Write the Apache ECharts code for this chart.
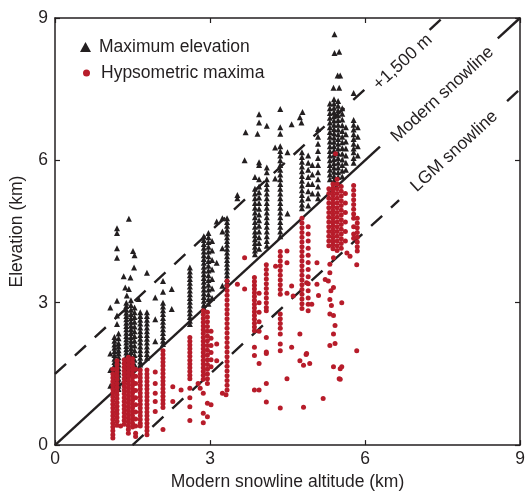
<!DOCTYPE html>
<html>
<head>
<meta charset="utf-8">
<script src="https://cdn.jsdelivr.net/npm/echarts@6/dist/echarts.min.js"></script>
<style>
html,body{margin:0;padding:0;background:#fff;}
#chart{width:528px;height:496px;}
</style>
</head>
<body>
<div id="chart"></div>
<script>
// ---- Data (km): each entry is [snowline altitude x, [elevations y ...]] ----
const maxElevLow = [
  [1.07, [2.90, 1.93, 1.58, 1.25]],
  [1.15, [2.28, 2.20, 2.12, 2.05, 1.98, 1.90, 1.82, 1.75, 1.68, 1.60, 1.52, 1.45, 1.38, 1.30, 1.22]],
  [1.20, [4.57, 4.47, 4.15, 3.95, 3.04, 2.73, 2.55]],
  [1.23, [2.35, 2.25, 2.15, 2.08, 2.00, 1.93, 1.85, 1.78, 1.70, 1.62, 1.55, 1.48, 1.40, 1.33, 1.25, 1.18]],
  [1.33, [3.56]],
  [1.36, [3.32]],
  [1.38, [3.00, 2.93, 2.86, 2.79, 2.72, 2.65, 2.58, 2.51, 2.44, 2.37, 2.30, 2.23, 2.16, 2.09, 2.02, 1.95, 1.88, 1.81, 1.74, 1.67, 1.60, 1.53, 1.46, 1.39]],
  [1.39, [3.15]],
  [1.43, [4.77, 3.29]],
  [1.46, [3.53]],
  [1.47, [3.05, 2.95, 2.85, 2.76, 2.68, 2.60, 2.52, 2.44, 2.36, 2.28, 2.20, 2.12, 2.04, 1.96, 1.88, 1.80, 1.72, 1.64, 1.56, 1.50]],
  [1.51, [4.09]],
  [1.53, [3.74]],
  [1.54, [4.00, 2.90, 2.80, 2.70, 2.60, 2.50, 2.40, 2.30, 2.20, 2.10, 2.00, 1.90, 1.80, 1.70]],
  [1.62, [3.08]],
  [1.65, [2.80, 2.72, 2.64, 2.56, 2.48, 2.40, 2.32, 2.24, 2.16, 2.08, 2.00, 1.92, 1.84, 1.76, 1.70]],
  [1.78, [3.63, 2.80, 2.72, 2.64, 2.56, 2.48, 2.40, 2.32, 2.24, 2.16, 2.08, 2.00, 1.92, 1.84]],
  [1.94, [3.11, 2.65, 2.19]],
  [2.09, [3.46, 3.23, 3.00, 2.92, 2.84, 2.76, 2.68, 2.60, 2.52, 2.44, 2.36, 2.28, 2.20, 2.13]]
];
const maxElevMid = [
  [2.26, [3.29, 2.87]],
  [2.61, [3.74, 3.66, 3.58, 3.50, 3.42, 3.34, 3.26, 3.18, 3.10, 3.02, 2.94, 2.86, 2.78, 2.70, 2.62, 2.55]],
  [2.88, [4.40, 4.32, 4.24, 4.16, 4.08, 4.00, 3.92, 3.84, 3.76, 3.68, 3.60, 3.52, 3.44, 3.36, 3.28, 3.20, 3.12, 3.04, 2.96, 2.90]],
  [2.97, [4.47, 4.38, 4.28, 4.18, 4.08, 3.98, 3.88, 3.78, 3.68, 3.58, 3.48, 3.38, 3.28, 3.18, 3.08, 2.98]],
  [3.04, [4.30, 4.10, 3.90, 3.70, 3.50, 3.30, 3.10]],
  [3.13, [4.71, 3.84]],
  [3.24, [4.78, 4.50, 4.15, 3.36]],
  [3.33, [4.78, 4.70, 4.62, 4.54, 4.46, 4.38, 4.30, 4.22, 4.14, 4.06, 3.98, 3.90, 3.82, 3.74, 3.66, 3.58, 3.50, 3.42]],
  [3.53, [5.27, 5.20]],
  [3.67, [6.00]],
  [3.69, [6.59]],
  [3.87, [5.65, 5.40, 5.30, 5.20, 5.10, 5.00, 4.90, 4.80, 4.70, 4.60, 4.50, 4.42, 4.34, 4.26, 4.18, 4.10, 4.02]],
  [3.92, [6.56]],
  [3.95, [6.97, 6.80, 5.96, 5.90, 5.60, 5.45, 5.33, 5.22, 5.10, 4.98, 4.86, 4.74, 4.62, 4.50, 4.38, 4.26, 4.14]],
  [4.10, [6.73, 5.85, 5.75, 5.60, 5.50, 5.40, 5.30, 5.20, 5.10, 5.00, 4.90, 4.80, 4.70, 4.60, 4.50, 4.40, 4.30, 4.20]],
  [4.26, [6.27, 5.62]],
  [4.36, [7.08, 6.70, 6.56, 6.30, 6.20, 6.10, 6.00, 5.90, 5.80, 5.70, 5.60, 5.50, 5.40, 5.30, 5.20, 5.10, 5.00, 4.90, 4.80, 4.70, 4.60, 4.50, 4.40]],
  [4.50, [6.17, 4.88]],
  [4.58, [6.76]]
];
const maxElevHigh = [
  [4.74, [6.91]],
  [4.77, [6.80]],
  [4.79, [7.02]],
  [4.78, [6.17, 6.07, 5.97, 5.87, 5.77, 5.67, 5.57, 5.47, 5.37, 5.27, 5.17, 5.07, 4.99]],
  [4.90, [6.10, 5.95, 5.80, 5.65, 5.50, 5.35, 5.20, 5.05]],
  [4.98, [5.90, 5.70, 5.50, 5.30]],
  [5.09, [6.66, 6.50, 6.35, 6.20, 6.05, 5.90, 5.75, 5.60, 5.45, 5.30, 5.20]],
  [5.32, [7.20, 7.10, 7.00, 6.90, 6.80, 6.70, 6.60, 6.50, 6.40, 6.30, 6.20, 6.10, 6.00, 5.90, 5.80, 5.70, 5.60]],
  [5.39, [7.53]],
  [5.40, [7.29, 7.20, 7.11, 7.02, 6.93, 6.84, 6.75, 6.66, 6.57, 6.48, 6.39, 6.30, 6.21, 6.12, 6.03, 5.94, 5.85, 5.76, 5.67, 5.58]],
  [5.41, [8.66, 8.26]],
  [5.47, [7.79]],
  [5.48, [7.25, 7.15, 7.05, 6.95, 6.85, 6.75, 6.65, 6.55, 6.45, 6.35, 6.25, 6.15, 6.05, 5.95, 5.85, 5.75, 5.65]],
  [5.50, [8.29, 7.53]],
  [5.52, [7.79]],
  [5.56, [7.10, 6.98, 6.86, 6.74, 6.62, 6.50, 6.38, 6.26, 6.14, 6.02, 5.90, 5.78, 5.66]],
  [5.63, [6.70, 6.55, 6.40, 6.25, 6.10, 5.95, 5.80]],
  [5.78, [7.42, 6.85, 6.75, 6.65, 6.55, 6.45, 6.35, 6.25, 6.17, 6.05, 5.95]],
  [5.86, [6.70, 6.50, 6.30, 6.10]]
];
const hypsoLow = [
  [1.12, [1.60, 1.50, 1.42, 1.34, 1.26, 1.18, 1.10, 1.02, 0.94, 0.86, 0.78, 0.70, 0.62, 0.54, 0.46, 0.38, 0.30, 0.22, 0.15]],
  [1.20, [1.78, 1.70, 1.62, 1.54, 1.46, 1.38, 1.30, 1.22, 1.14, 1.06, 0.98, 0.90, 0.82, 0.74, 0.66, 0.58, 0.50, 0.42]],
  [1.27, [0.40]],
  [1.34, [1.80, 1.72, 1.64, 1.56, 1.48, 1.40, 1.32, 1.24, 1.16, 1.08, 1.00, 0.92, 0.84, 0.76, 0.68, 0.60, 0.52, 0.44]],
  [1.42, [1.85, 1.77, 1.69, 1.61, 1.53, 1.45, 1.37, 1.29, 1.21, 1.13, 1.05, 0.97, 0.89, 0.81, 0.73, 0.65, 0.57, 0.49, 0.41, 0.33, 0.25]],
  [1.50, [1.82, 1.74, 1.66, 1.58, 1.50, 1.42, 1.34, 1.26, 1.18, 1.10, 1.02, 0.94, 0.86, 0.78, 0.70, 0.62, 0.54, 0.46, 0.38]],
  [1.56, [1.60, 1.45, 1.30, 1.15, 1.00, 0.85, 0.70, 0.55, 0.40, 0.25, 0.18]],
  [1.65, [1.58, 1.50, 1.42, 1.34, 1.26, 1.18, 1.10, 1.02, 0.94, 0.86, 0.78, 0.70, 0.62, 0.54, 0.46, 0.40]],
  [1.78, [1.58, 1.50, 1.42, 1.34, 1.26, 1.18, 1.10, 1.02, 0.94, 0.86, 0.78, 0.70, 0.62, 0.54, 0.46, 0.38, 0.30, 0.22]],
  [1.94, [1.54, 1.30, 1.09, 0.92, 0.71]],
  [2.09, [1.99, 1.91, 1.83, 1.75, 1.67, 1.59, 1.51, 1.43, 1.35, 1.27, 1.19, 1.11, 1.03, 0.95, 0.87, 0.79, 0.33]],
  [2.28, [1.23, 0.92]],
  [2.44, [1.16]]
];
const hypsoMid = [
  [2.61, [2.27, 2.19, 2.11, 2.03, 1.95, 1.87, 1.79, 1.71, 1.63, 1.55, 1.47, 1.40, 1.20, 1.00, 0.81, 0.52]],
  [2.77, [1.30]],
  [2.81, [1.20]],
  [2.87, [2.83, 2.75, 2.67, 2.59, 2.51, 2.43, 2.35, 2.27, 2.19, 2.11, 2.03, 1.95, 1.87, 1.79, 1.71, 1.63, 1.55, 1.47, 1.39, 1.09, 0.67, 0.47]],
  [2.95, [2.80, 2.70, 2.60, 2.50, 2.40, 2.30, 2.20, 2.10, 2.00, 1.90, 1.80, 1.70, 1.60, 1.50, 1.40, 1.30, 0.88, 0.60]],
  [3.02, [2.40, 2.25, 2.10, 1.95, 1.80, 1.65, 0.85]],
  [3.13, [2.13, 1.78]],
  [3.24, [1.09]],
  [3.31, [1.06]],
  [3.33, [3.46, 3.36, 3.26, 3.16, 3.06, 2.96, 2.86, 2.76, 2.66, 2.56, 2.46, 2.36, 2.26, 2.16, 2.06, 1.96, 1.86, 1.76, 1.66, 1.56, 1.46, 1.36, 1.26, 1.16]],
  [3.53, [3.39]],
  [3.67, [3.95, 3.29]],
  [3.86, [3.53, 3.45, 3.37, 3.29, 3.21, 3.13, 3.05, 2.97, 2.89, 2.81, 2.73, 2.65, 2.57, 2.49, 2.41, 2.06, 1.89, 1.16]],
  [3.95, [3.20, 3.00, 2.80, 2.60, 2.40, 1.72, 1.16]],
  [4.09, [3.80, 3.70, 3.60, 3.50, 3.40, 3.30, 3.20, 3.10, 3.00, 2.90, 2.83, 2.27, 1.96, 1.93, 1.30, 0.91]],
  [4.27, [3.77]],
  [4.36, [4.08, 3.98, 3.88, 3.78, 3.68, 3.58, 3.48, 3.38, 3.28, 3.18, 2.76, 2.66, 2.56, 2.46, 2.34, 2.13, 1.99, 0.78]],
  [4.49, [4.09, 3.84, 3.20, 1.40]],
  [4.58, [3.35, 2.06]],
  [4.61, [3.14]]
];
const hypsoHigh = [
  [4.74, [2.34, 1.78]],
  [4.78, [4.78, 4.68, 4.58, 4.48, 4.38, 4.28, 4.18, 4.08, 3.98, 3.88, 3.78, 3.68, 3.58, 3.48, 3.38, 3.28, 3.18, 3.08, 2.98, 2.88]],
  [4.81, [1.68, 0.80]],
  [4.86, [1.91]],
  [4.87, [3.42, 1.93]],
  [4.90, [4.60, 4.45, 4.30, 4.15, 4.00, 3.85, 3.70, 3.55, 3.40, 3.25, 3.10, 2.97, 2.83]],
  [4.93, [1.72]],
  [4.97, [2.97]],
  [5.07, [3.84, 3.39]],
  [5.10, [3.15]],
  [5.19, [0.98]],
  [5.23, [3.49]],
  [5.29, [3.46]],
  [5.30, [5.40, 5.30, 5.20, 5.10, 5.00, 4.90, 4.80, 4.70, 4.60, 4.50, 4.40, 4.30, 4.20]],
  [5.32, [3.81, 3.63, 3.07, 2.76, 2.10]],
  [5.34, [3.25]],
  [5.35, [2.94]],
  [5.38, [5.50, 5.42, 5.34, 5.26, 5.18, 5.10, 5.02, 4.94, 4.86, 4.78, 4.70, 4.62, 4.54, 4.46, 4.38, 4.30, 4.22, 4.14]],
  [5.39, [3.95, 3.32, 2.73, 2.34, 1.65]],
  [5.42, [2.52, 2.14]],
  [5.43, [6.14]],
  [5.46, [5.60, 5.50, 5.40, 5.30, 5.20, 5.10, 5.00, 4.90, 4.80, 4.70, 4.60, 4.50, 4.40, 4.30, 4.20, 4.10]],
  [5.50, [1.40]],
  [5.52, [1.61, 1.39]],
  [5.54, [5.45, 5.35, 5.25, 5.15, 5.05, 4.95, 4.85, 4.75, 4.65, 4.55, 4.45, 4.35, 4.25, 4.15]],
  [5.55, [3.00, 1.65]],
  [5.62, [5.30, 5.10, 4.90, 4.70, 4.50, 4.30]],
  [5.65, [4.05]],
  [5.71, [3.98]],
  [5.78, [5.47, 5.37, 5.27, 5.17, 5.07, 4.97, 4.87, 4.78, 4.60, 4.45, 4.36]],
  [5.84, [1.99, 3.80]],
  [5.85, [4.78, 4.68, 4.58, 4.48, 4.38, 4.28, 4.18, 4.09]]
];
// Reference lines: elevation = altitude + offset, drawn over x-ranges (gaps leave room for labels)
const lineNames = ['+1,500 m', 'Modern snowline', 'LGM snowline'];
const lineOffsets = [1.5, 0, -1.5];
const lineRanges = [[[0, 6.06], [7.25, 7.5]], [[0, 6.29], [8.57, 9]], [[1.5, 6.66], [8.75, 9]]];
const lineDashed = [true, false, true];
const labelPos = [[6.73, 8.07], [7.50, 7.39], [7.73, 6.19]];
const axisTicks = [0, 3, 6, 9];

const INK = '#231f20';
const RED = '#b71c2a';
const FONT = '"Liberation Sans", Arial, Helvetica, sans-serif';

function flatten(groups) {
  const pts = [];
  groups.forEach(g => g.forEach(([x, ys]) => ys.forEach(y => pts.push([x, y]))));
  return pts;
}
const triPts = flatten([maxElevLow, maxElevMid, maxElevHigh]);
const dotPts = flatten([hypsoLow, hypsoMid, hypsoHigh]);

const lineSeries = [];
lineOffsets.forEach((off, i) => {
  lineRanges[i].forEach(([a, b]) => {
    lineSeries.push({
      type: 'line', silent: true, showSymbol: false, symbol: 'none', animation: false,
      data: [[a, a + off], [b, b + off]],
      lineStyle: { color: INK, width: 2.4, type: lineDashed[i] ? [15, 12] : 'solid', cap: 'butt' },
      z: 1
    });
  });
});

const chart = echarts.init(document.getElementById('chart'), null, { renderer: 'canvas' });
const axisCommon = {
  type: 'value', min: axisTicks[0], max: axisTicks[axisTicks.length - 1], interval: 3,
  axisLine: { show: true, onZero: false, lineStyle: { color: INK, width: 1.5 } },
  axisTick: { show: true, inside: true, length: 5, lineStyle: { color: INK, width: 1.2 } },
  splitLine: { show: false }
};
chart.setOption({
  animation: false,
  backgroundColor: '#fff',
  textStyle: { fontFamily: FONT },
  grid: { left: 55, right: 8, top: 18, bottom: 47, containLabel: false },
  xAxis: [
    Object.assign({}, axisCommon, {
      position: 'bottom',
      name: 'Modern snowline altitude (km)', nameLocation: 'middle', nameGap: 24,
      nameTextStyle: { fontSize: 17.5, color: INK, fontFamily: FONT },
      axisLabel: { fontSize: 17.5, color: INK, margin: 5, fontFamily: FONT }
    }),
    Object.assign({}, axisCommon, { position: 'top', axisLabel: { show: false } })
  ],
  yAxis: [
    Object.assign({}, axisCommon, {
      position: 'left',
      name: 'Elevation (km)', nameLocation: 'middle', nameGap: 29, nameRotate: 90,
      nameTextStyle: { fontSize: 17.5, color: INK, fontFamily: FONT },
      axisLabel: { fontSize: 17.5, color: INK, margin: 7, fontFamily: FONT }
    }),
    Object.assign({}, axisCommon, { position: 'right', axisLabel: { show: false } })
  ],
  legend: [
    {
      data: [{ name: 'Maximum elevation', icon: 'triangle' }],
      left: 75, top: 33, itemWidth: 11, itemHeight: 10, selectedMode: false,
      textStyle: { fontSize: 17.5, color: INK, fontFamily: FONT, padding: [0, 0, 0, 3] }
    },
    {
      data: [{ name: 'Hypsometric maxima', icon: 'circle' }],
      left: 78, top: 59, itemWidth: 7, itemHeight: 7, selectedMode: false,
      textStyle: { fontSize: 17.5, color: INK, fontFamily: FONT, padding: [0, 0, 0, 6] }
    }
  ],
  series: lineSeries.concat([
    {
      name: 'Maximum elevation', type: 'scatter', symbol: 'triangle', symbolSize: [6, 6],
      data: triPts, itemStyle: { color: INK, opacity: 1 }, z: 2, large: false
    },
    {
      name: 'Hypsometric maxima', type: 'scatter', symbol: 'circle', symbolSize: 5,
      data: dotPts, itemStyle: { color: RED, opacity: 1 }, z: 3, large: false
    }
  ])
});

const angle = Math.atan2(
  chart.convertToPixel({ gridIndex: 0 }, [0, 0])[1] - chart.convertToPixel({ gridIndex: 0 }, [9, 9])[1],
  chart.convertToPixel({ gridIndex: 0 }, [9, 9])[0] - chart.convertToPixel({ gridIndex: 0 }, [0, 0])[0]
);
chart.setOption({
  graphic: labelPos.map((p, i) => {
    const px = chart.convertToPixel({ gridIndex: 0 }, p);
    return {
      type: 'text', x: px[0], y: px[1], rotation: angle, z: 10,
      style: { text: lineNames[i], fontSize: 17.5, fontFamily: FONT, fill: INK, align: 'center', verticalAlign: 'middle' }
    };
  })
});
</script>
</body>
</html>
